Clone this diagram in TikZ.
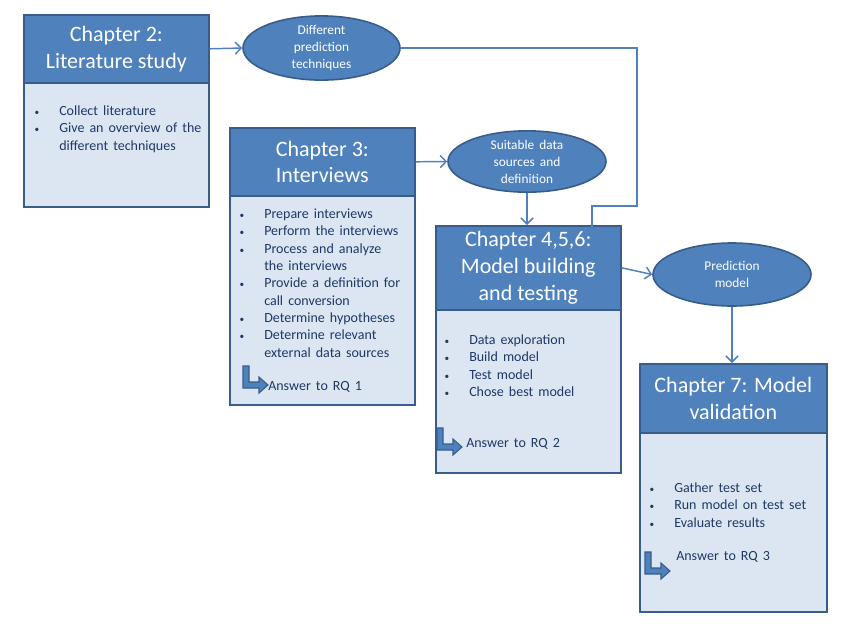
\documentclass[tikz,border=0pt]{standalone}
\usepackage{fontspec}
\setmainfont{Carlito}
\usetikzlibrary{shapes.geometric,arrows.meta}
\definecolor{hdr}{HTML}{4F81BD}
\definecolor{bdr}{HTML}{385D8A}
\definecolor{bodyc}{HTML}{DCE6F2}
\definecolor{txt}{HTML}{1F3864}
\newcommand\bl{\makebox[19.5pt][l]{\hspace{1pt}\scriptsize\textbullet}}
\newcommand\nb{\makebox[19.5pt]{}}
\newcommand\itemfont{\fontsize{10.5}{13}\selectfont\spaceskip=3.8pt plus 1pt minus 0.5pt\relax}
\newcommand\ovalfont{\fontsize{10}{12.75}\selectfont\spaceskip=3.8pt plus 1pt minus 0.5pt\relax}
\tikzset{
 hdrbox/.style={draw=bdr, fill=hdr, line width=1.2pt, text=white, align=center, inner sep=0pt, anchor=north west, font=\fontsize{16.5}{20}\selectfont},
 bodybox/.style={draw=bdr, fill=bodyc, line width=1.2pt, inner sep=0pt, anchor=north west},
 items/.style={text=txt, align=left, inner sep=0pt, anchor=north west, font=\itemfont},
 anstext/.style={text=txt, inner sep=0pt, anchor=west, font=\itemfont},
 oval/.style={ellipse, draw=bdr, fill=hdr, line width=1.2pt, text=white, align=center, inner sep=0pt, font=\ovalfont},
 conn/.style={draw=hdr, line width=1.1pt, -{Straight Barb[length=4.5pt,width=9pt]}},
 ansarr/.pic={\filldraw[fill=hdr, draw=bdr, line width=0.8pt] (0,0)--(6,0)--(6,16)--(16,16)--(16,11)--(25,19)--(16,27)--(16,22)--(0,22)--cycle;}
}
\begin{document}
\begin{tikzpicture}[x=0.75pt,y=-0.75pt]
\useasboundingbox (0,0) rectangle (842,626);
% Chapter 2
\node[bodybox, minimum width=138.75pt, minimum height=93pt] (c2b) at (23,82) {};
\node[hdrbox, minimum width=138.75pt, minimum height=51pt] (c2h) at (23,14) {Chapter 2:\\Literature study};
\node[items] (c2l) at (33,105.5) {\bl Collect literature\\ \bl Give an overview of the\\ \nb different techniques};
% Chapter 3
\node[bodybox, minimum width=138.75pt, minimum height=156.75pt] (c3b) at (229,195) {};
\node[hdrbox, minimum width=138.75pt, minimum height=51pt] (c3h) at (229,127) {Chapter 3:\\Interviews};
\node[items] (c3l) at (238,208.5) {\bl Prepare interviews\\ \bl Perform the interviews\\ \bl Process and analyze\\ \nb the interviews\\ \bl Provide a definition for\\ \nb call conversion\\ \bl Determine hypotheses\\ \bl Determine relevant\\ \nb external data sources};
\pic at (243,366) {ansarr};
\node[anstext] (c3a) at (268,387) {Answer to RQ 1};
% Chapter 4,5,6
\node[bodybox, minimum width=138.75pt, minimum height=122.25pt] (c4b) at (435,309) {};
\node[hdrbox, minimum width=138.75pt, minimum height=63pt] (c4h) at (435,225) {Chapter 4,5,6:\\Model building\\and testing};
\node[items] (c4l) at (443,334.5) {\bl Data exploration\\ \bl Build model\\ \bl Test model\\ \bl Chose best model};
\pic at (437,428) {ansarr};
\node[anstext] (c4a) at (466,444) {Answer to RQ 2};
% Chapter 7
\node[bodybox, minimum width=140.25pt, minimum height=134.25pt] (c7b) at (639,432) {};
\node[hdrbox, minimum width=140.25pt, minimum height=51.75pt] (c7h) at (639,363) {Chapter 7: Model\\validation};
\node[items] (c7l) at (648,482.5) {\bl Gather test set\\ \bl Run model on test set\\ \bl Evaluate results};
\pic at (645,552) {ansarr};
\node[anstext] (c7a) at (676,557) {Answer to RQ 3};
% Ellipses
\node[oval, minimum width=117.75pt, minimum height=46.5pt] (e1) at (321.5,48) {Different\\prediction\\techniques};
\node[oval, minimum width=118.5pt, minimum height=45.75pt] (e2) at (527,161.5) {Suitable data\\sources and\\definition};
\node[oval, minimum width=118.5pt, minimum height=47.25pt] (e3) at (732,274.5) {Prediction\\model};
% Connectors
\coordinate (k1) at (637,48);
\coordinate (k2) at (637,206);
\coordinate (k3) at (592,206);
\coordinate (k4) at (592,237);
\draw[conn] (c2h.east) -- (e1.west);
\draw[conn] (c3h.east) -- (e2.west);
\draw[conn] (e2.south) -- (e2.south |- c4h.north);
\draw[conn] (c4h.east) -- (e3.west);
\draw[conn] (e3.south) -- (e3.south |- c7h.north);
\draw[conn] (e1.east) -- (k1) -- (k2) -- (k3) -- (k4);
\end{tikzpicture}
\end{document}
